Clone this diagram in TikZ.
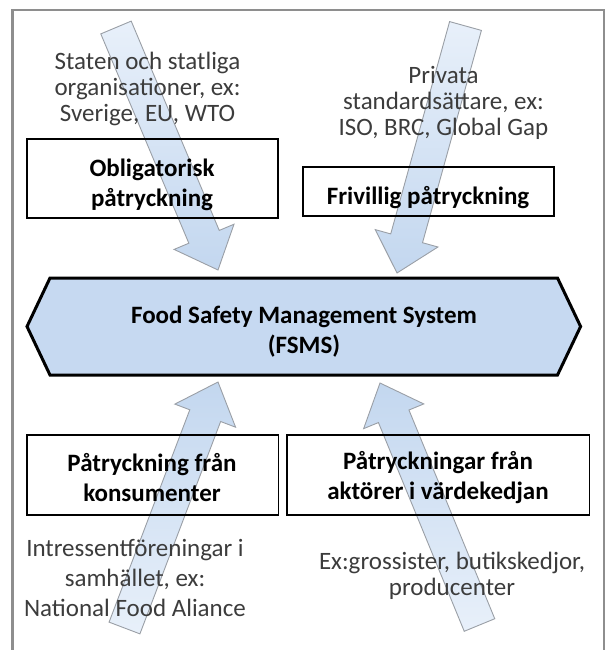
\documentclass[tikz,border=0pt]{standalone}
\usepackage{fontspec}
\setmainfont{Carlito}
\usetikzlibrary{calc}
\definecolor{hexblue}{HTML}{C6D9F1}
\definecolor{arrlight}{HTML}{E8F0FA}
\definecolor{arrblue}{HTML}{C3D7EF}
\definecolor{arredge}{HTML}{9A9FA6}
\definecolor{txtgray}{HTML}{3C3C3C}
\definecolor{framegray}{HTML}{8E8E8E}
\newcommand\fatarrow[3]{%
  \coordinate (#1h) at ($(#2)!36pt!(#1)$);
  \path[fatarr,#3] ($(#1)!16.5pt!90:(#2)$) -- ($(#1h)!16.5pt!90:(#2)$) -- ($(#1h)!32.5pt!90:(#2)$) -- (#2) -- ($(#1h)!32.5pt!-90:(#2)$) -- ($(#1h)!16.5pt!-90:(#2)$) -- ($(#1)!16.5pt!-90:(#2)$) -- cycle;
}
\begin{document}
\begin{tikzpicture}[x=1pt,y=-1pt,
  fatarr/.style={draw=arredge, line width=0.9pt, line join=miter},
  downarr/.style={top color=arrlight, bottom color=arrblue},
  uparr/.style={top color=arrblue, bottom color=arrlight},
  boxnode/.style={draw=black, line width=1.6pt, rectangle, inner sep=0pt},
  boldtxt/.style={font=\fontsize{25}{30}\selectfont\bfseries, align=center, text=black, inner sep=0pt},
  plaintxt/.style={font=\fontsize{25}{26}\selectfont, align=center, text=txtgray, inner sep=0pt},
  hexshape/.style={draw=black, fill=hexblue, line width=3pt, line join=miter}
]
\useasboundingbox (0,0) rectangle (605,650);
% frame
\draw[framegray, line width=2.5pt] (12.5,665) -- (12.5,10) -- (604,10) -- (604,665);
% arrow end points
\coordinate (tlTail) at (116,27.5);
\coordinate (tlTip) at (218,270);
\coordinate (trTail) at (465.5,26);
\coordinate (trTip) at (397,273);
\coordinate (blTail) at (124.5,628);
\coordinate (blTip) at (218,382);
\coordinate (brTail) at (479.5,625);
\coordinate (brTip) at (380,383);
\fatarrow{tlTail}{tlTip}{downarr}
\fatarrow{trTail}{trTip}{downarr}
\fatarrow{blTail}{blTip}{uparr}
\fatarrow{brTail}{brTip}{uparr}
% boxes
\node[boxnode, minimum width=251pt, minimum height=79pt] (obbox) at (152.5,178.5) {};
\node[boxnode, minimum width=251pt, minimum height=49pt] (frbox) at (428.5,191.5) {};
\node[boxnode, minimum width=251.5pt, minimum height=80pt] (blbox) at (152.75,475) {};
\node[boxnode, minimum width=302.5pt, minimum height=80pt] (brbox) at (438.25,475) {};
% hexagon
\coordinate (hexL) at (27,326.5);
\coordinate (hexTL) at (50,278);
\coordinate (hexTR) at (557.5,278);
\coordinate (hexR) at (580.6,326.5);
\coordinate (hexBR) at (557.5,375);
\coordinate (hexBL) at (50,375);
\path[hexshape] (hexL) -- (hexTL) -- (hexTR) -- (hexR) -- (hexBR) -- (hexBL) -- cycle;
% texts
\node[boldtxt] (obtxt) at (152,185) {Obligatorisk\\påtryckning};
\node[boldtxt] (frtxt) at (428,198) {Frivillig påtryckning};
\node[boldtxt] (fstxt) at (304,332) {Food Safety Management System\\(FSMS)};
\node[boldtxt] (bltxt) at (152,478) {Påtryckning från\\konsumenter};
\node[boldtxt] (brtxt) at (438,478) {Påtryckningar från\\aktörer i värdekedjan};
\node[plaintxt] (sttxt) at (147.5,89) {Staten och statliga\\organisationer, ex:\\Sverige, EU, WTO};
\node[plaintxt] (prtxt) at (443.5,103) {Privata\\standardsättare, ex:\\ISO, BRC, Global Gap};
\node[plaintxt, font=\fontsize{25}{30}\selectfont] (intxt) at (135,578) {Intressentföreningar i\\samhället, ex:\\National Food Aliance};
\node[plaintxt] (extxt) at (452,575.5) {Ex:grossister, butikskedjor,\\producenter};
\end{tikzpicture}
\end{document}
